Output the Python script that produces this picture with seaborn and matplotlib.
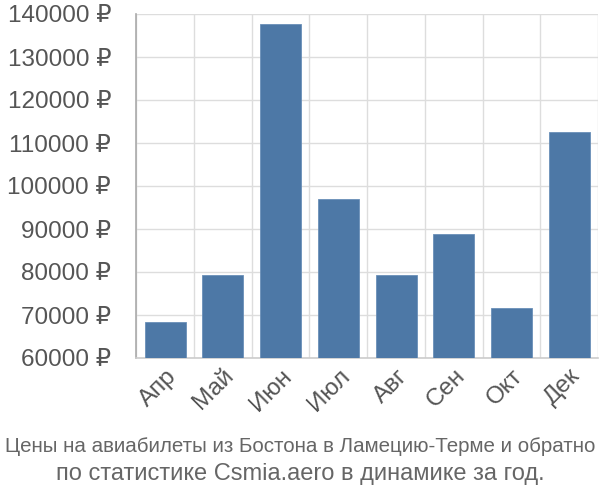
import matplotlib
matplotlib.use("Agg")
import matplotlib.pyplot as plt
import seaborn as sns
import pandas as pd
from matplotlib.ticker import FixedLocator, FuncFormatter

months = ["Апр", "Май", "Июн", "Июл", "Авг", "Сен", "Окт", "Дек"]
prices = [68400, 79200, 137700, 97000, 79200, 88800, 71700, 112600]
yticks = [60000, 70000, 80000, 90000, 100000, 110000, 120000, 130000, 140000]
title_lines = ["Цены на авиабилеты из Бостона в Ламецию-Терме и обратно",
               "по статистике Csmia.aero в динамике за год."]

sns.set_style("white")
plt.rcParams['font.family'] = ['Liberation Sans', 'DejaVu Sans']

df = pd.DataFrame({"month": months, "price": prices})

fig = plt.figure(figsize=(6, 5), dpi=100)
ax = fig.add_axes([0.227, 0.284, 0.770, 0.688])
sns.barplot(data=df, x="month", y="price", color="#4d78a6", saturation=1,
            width=0.71, ax=ax, edgecolor="#6a8fb8", linewidth=0.6, zorder=3)

ax.set_ylim(60000, 140000)
ax.set_xlim(-0.5, len(months) - 0.5)
ax.set_yticks(yticks)
ax.yaxis.set_major_formatter(FuncFormatter(lambda v, p: f"{int(v)} ₽"))
ax.xaxis.set_minor_locator(FixedLocator([i - 0.5 for i in range(len(months) + 1)]))

ax.grid(True, axis="y", which="major", color="#dddddd", linewidth=1, zorder=0)
ax.grid(True, axis="x", which="minor", color="#dddddd", linewidth=1, zorder=0)
ax.set_axisbelow(True)

ax.tick_params(axis="x", which="major", length=0, pad=5, labelsize=17.5, labelcolor="#555555")
ax.tick_params(axis="x", which="minor", length=18, width=1, color="#dddddd")
ax.tick_params(axis="y", which="major", length=18, width=1, color="#dddddd", pad=0,
               labelsize=17.5, labelcolor="#555555")
for lab in ax.get_xticklabels():
    lab.set_rotation(45)
    lab.set_ha("right")
    lab.set_va("top")
    lab.set_rotation_mode("anchor")

for s in ["top", "right"]:
    ax.spines[s].set_visible(False)
ax.spines["left"].set_color("#aaaaaa")
ax.spines["left"].set_linewidth(1.2)
ax.spines["bottom"].set_color("#cccccc")
ax.spines["bottom"].set_linewidth(1.2)
ax.set_xlabel("")
ax.set_ylabel("")

fig.text(0.5, 0.106, title_lines[0], ha="center", va="center", fontsize=14.8,
         color="#666666")
fig.text(0.5, 0.052, title_lines[1], ha="center", va="center", fontsize=17,
         color="#666666")

fig.savefig("out.png", dpi=100)
